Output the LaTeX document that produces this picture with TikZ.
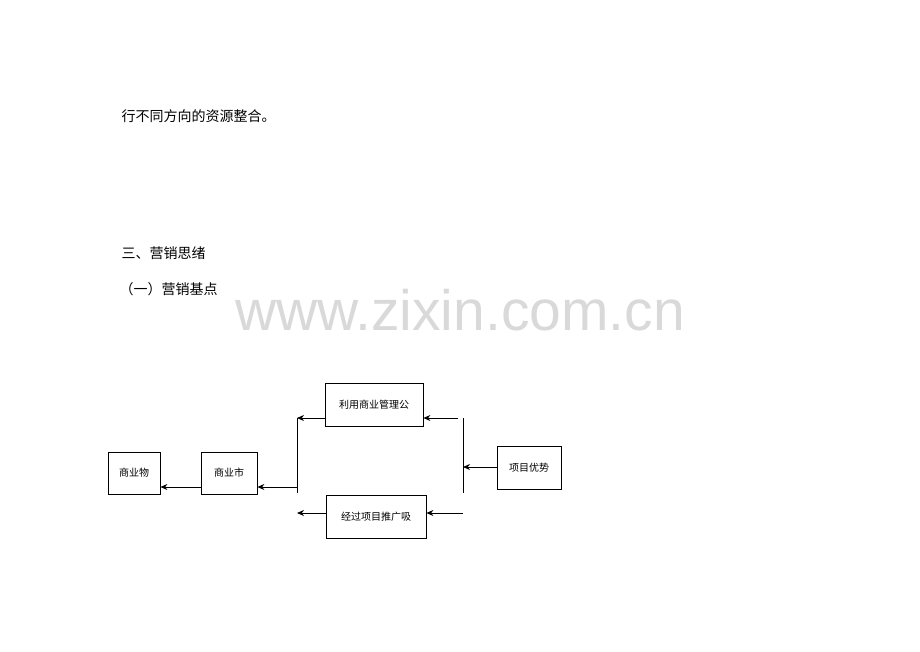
\documentclass[tikz,border=0pt]{standalone}
\usepackage{fontspec}
\newfontfamily\cjk{Noto Sans CJK SC}
\newfontfamily\wmfont{Liberation Sans}
\usetikzlibrary{arrows.meta}
\begin{document}
\begin{tikzpicture}[x=1pt,y=-1pt,font=\cjk,
    box/.style={draw,thick,minimum height=42pt,font=\cjk\fontsize{10}{12}\selectfont},
    arr/.style={-{Stealth[length=7pt,width=6pt]},thick}]
\useasboundingbox (0,0) rectangle (920,651);
\node[font=\wmfont\fontsize{57}{60}\selectfont,text=black!15] (wm) at (460,310) {www.zixin.com.cn};
\node[anchor=west,font=\cjk\fontsize{14}{16}\selectfont] (t1) at (118,116) {行不同方向的资源整合。};
\node[anchor=west,font=\cjk\fontsize{14}{16}\selectfont] (t2) at (118,253) {三、营销思绪};
\node[anchor=west,font=\cjk\fontsize{14}{16}\selectfont] (t3) at (116,289) {（一）营销基点};
\begin{scope}[every node/.style={box}]
    \node[minimum width=52pt] (wu) at (134,473) {商业物};
    \node[minimum width=56pt] (shi) at (229,473) {商业市};
    \node[minimum width=98pt,minimum height=43pt] (gl) at (374,404.5) {利用商业管理公};
    \node[minimum width=100pt,minimum height=43pt] (tg) at (376,516.5) {经过项目推广吸};
    \node[minimum width=64pt,minimum height=43pt] (ys) at (529,467.5) {项目优势};
\end{scope}
\coordinate (l1) at (297,418);
\coordinate (l2) at (297,493);
\coordinate (lm) at (297,487);
\coordinate (lb) at (297,513);
\coordinate (r1) at (463,418);
\coordinate (r2) at (463,493);
\coordinate (rm) at (463,467);
\coordinate (rt) at (458,418);
\coordinate (rb) at (463,513);
\draw[thick] (l1) -- (l2);
\draw[thick] (r1) -- (r2);
\draw[arr] (gl.west |- l1) -- (l1);
\draw[arr] (tg.west |- lb) -- (lb);
\draw[arr] (lm) -- (shi.east |- lm);
\draw[arr] (shi.west |- lm) -- (wu.east |- lm);
\draw[arr] (rt) -- (gl.east |- rt);
\draw[arr] (rb) -- (tg.east |- rb);
\draw[arr] (ys.west |- rm) -- (rm);
\end{tikzpicture}
\end{document}
